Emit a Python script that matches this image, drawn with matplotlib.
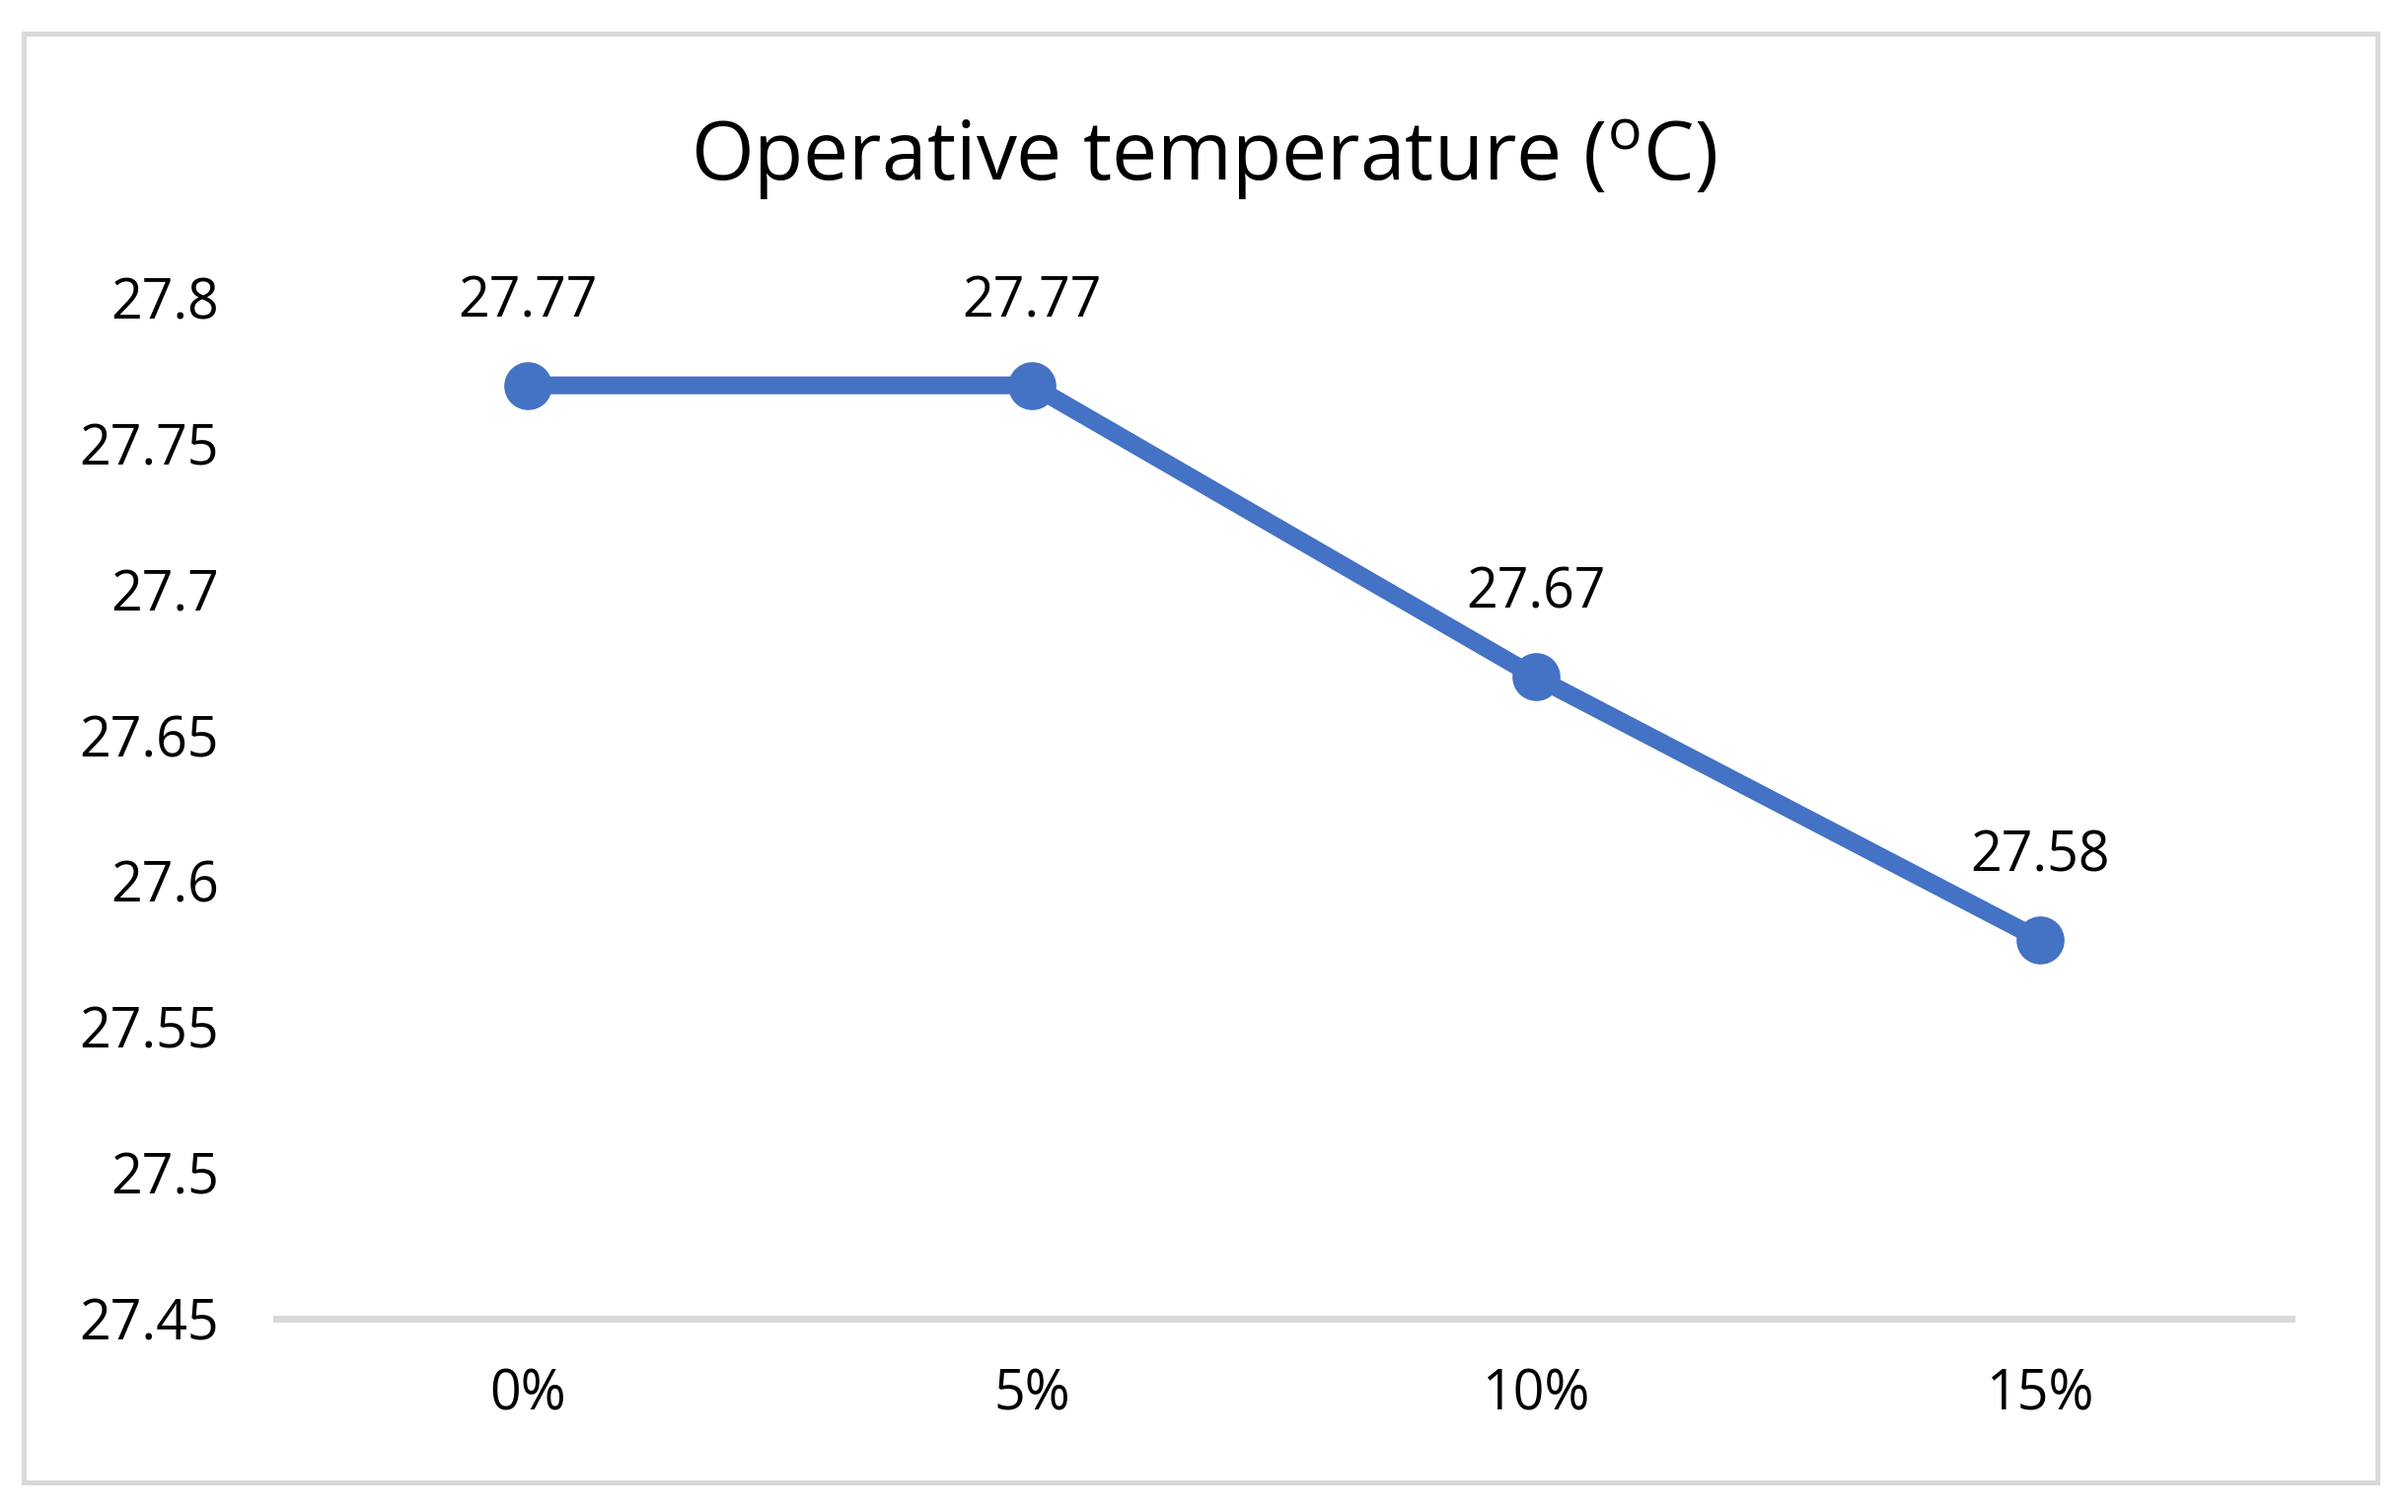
import matplotlib
matplotlib.use("Agg")
import matplotlib.pyplot as plt
from matplotlib.patches import Rectangle

# data
categories = ["0%", "5%", "10%", "15%"]
temps = [27.77, 27.77, 27.67, 27.58]
yticks = [27.45, 27.5, 27.55, 27.6, 27.65, 27.7, 27.75, 27.8]

plt.rcParams['font.family'] = ['Open Sans', 'DejaVu Sans']

fig = plt.figure(figsize=(24.41, 15.33), dpi=100)
ax = fig.add_axes([0.1147, 0.1279, 0.9517 - 0.1147, 0.803 - 0.1279])

x = [i + 0.5 for i in range(len(categories))]
ax.plot(x, temps, color='#4472C4', lw=13, marker='o', ms=34,
        solid_capstyle='round')
for xi, t in zip(x, temps):
    ax.annotate("%.2f" % t, (xi, t), xytext=(0, 50), textcoords='offset points',
                ha='center', va='baseline', fontsize=40)

ax.set_xlim(0, 4)
ax.set_ylim(27.45, 27.8)
ax.set_xticks(x)
ax.set_xticklabels(categories)
ax.set_yticks(yticks)
ax.set_yticklabels([("%.2f" % v).rstrip('0') for v in yticks])
ax.tick_params(axis='both', length=0, labelsize=40)
ax.tick_params(axis='y', pad=42)
ax.tick_params(axis='x', pad=36)
for s in ['top', 'right', 'left']:
    ax.spines[s].set_visible(False)
ax.spines['bottom'].set_color('#d9d9d9')
ax.spines['bottom'].set_linewidth(5)

fig.text(0.5, 1 - 183 / 1533, r"Operative temperature ($\mathregular{^{o}}$C)",
         ha='center', va='baseline', fontsize=59)

fig.patches.append(Rectangle((0.0098, 0.0196), 0.9775, 0.9584, transform=fig.transFigure,
                             fill=False, edgecolor='#d9d9d9', lw=3.6))

plt.savefig("out.png", dpi=100)
